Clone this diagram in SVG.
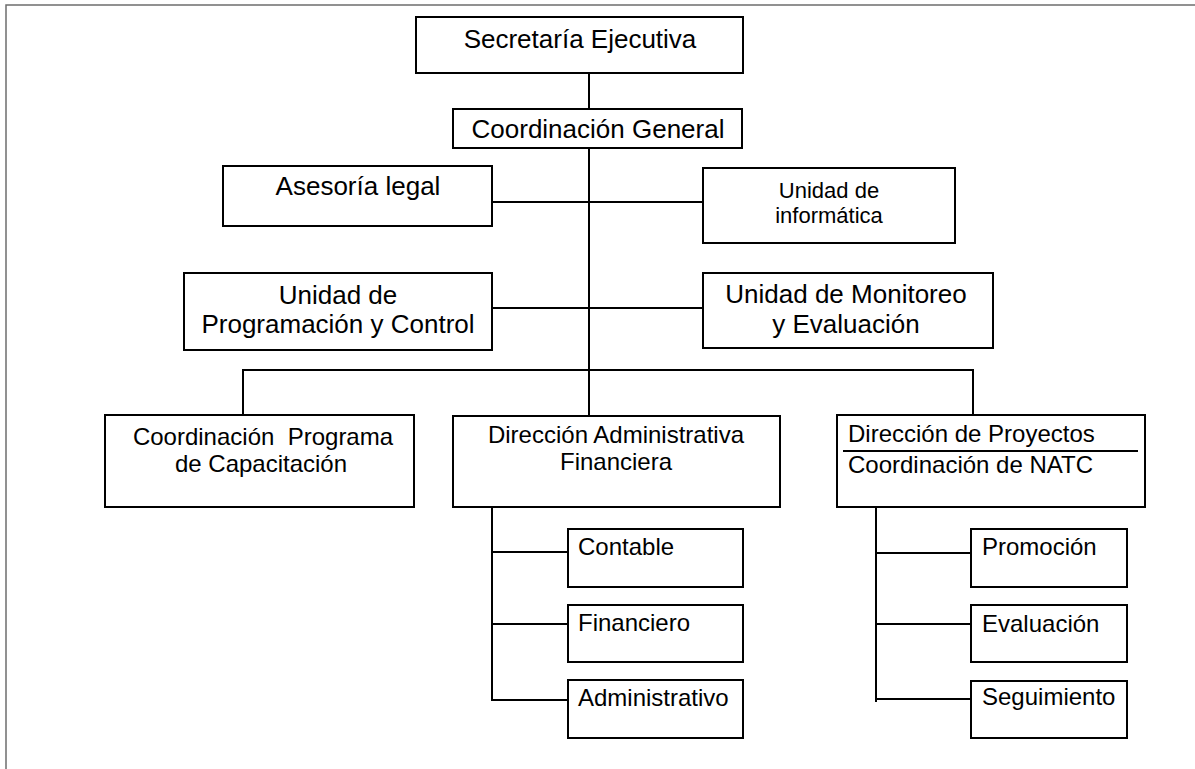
<svg xmlns="http://www.w3.org/2000/svg" width="1195" height="769" viewBox="0 0 1195 769">
<style>
.box{fill:#fff;stroke:#000;stroke-width:2}
.ln{stroke:#000;stroke-width:2;fill:none}
text{font-family:"Liberation Sans",Arial,sans-serif;fill:#000}
.c{text-anchor:middle}
.f26{font-size:26px}
.f24{font-size:24px}
.f22{font-size:22px}
</style>
<rect width="1195" height="769" fill="#fff"/>
<path d="M6 769 V5 H1195" stroke="#6e6e6e" stroke-width="1.5" fill="none"/>
<g id="connectors">
<line class="ln" x1="589" y1="73" x2="589" y2="109"/>
<line class="ln" x1="589" y1="148" x2="589" y2="416"/>
<line class="ln" x1="492" y1="202" x2="703" y2="202"/>
<line class="ln" x1="492" y1="308" x2="703" y2="308"/>
<line class="ln" x1="242" y1="370" x2="974" y2="370"/>
<line class="ln" x1="243" y1="370" x2="243" y2="415"/>
<line class="ln" x1="973" y1="370" x2="973" y2="415"/>
<line class="ln" x1="492" y1="507" x2="492" y2="701"/>
<line class="ln" x1="492" y1="552" x2="568" y2="552"/>
<line class="ln" x1="492" y1="624" x2="568" y2="624"/>
<line class="ln" x1="492" y1="700" x2="568" y2="700"/>
<line class="ln" x1="876" y1="507" x2="876" y2="702"/>
<line class="ln" x1="876" y1="553" x2="971" y2="553"/>
<line class="ln" x1="876" y1="624" x2="971" y2="624"/>
<line class="ln" x1="876" y1="699" x2="971" y2="699"/>
</g>
<g id="secretaria">
<rect class="box" x="416" y="17" width="327" height="56"/>
<text class="c f26" x="580" y="48">Secretaría Ejecutiva</text>
</g>
<g id="coordinacion-general">
<rect class="box" x="453" y="109" width="289" height="39"/>
<text class="c f26" x="598" y="138">Coordinación General</text>
</g>
<g id="asesoria-legal">
<rect class="box" x="223" y="166" width="269" height="60"/>
<text class="c f26" x="358" y="195">Asesoría legal</text>
</g>
<g id="unidad-informatica">
<rect class="box" x="703" y="168" width="252" height="75"/>
<text class="c f22" x="829" y="198">Unidad de</text>
<text class="c f22" x="829" y="223">informática</text>
</g>
<g id="unidad-programacion">
<rect class="box" x="184" y="273" width="308" height="77"/>
<text class="c f26" x="338" y="304">Unidad de</text>
<text class="c f26" x="338" y="333">Programación y Control</text>
</g>
<g id="unidad-monitoreo">
<rect class="box" x="703" y="273" width="290" height="75"/>
<text class="c f26" x="846" y="303">Unidad de Monitoreo</text>
<text class="c f26" x="846" y="333">y Evaluación</text>
</g>
<g id="coord-capacitacion">
<rect class="box" x="105" y="415" width="309" height="92"/>
<text class="c f24" x="263" y="445" xml:space="preserve" style="white-space:pre">Coordinación  Programa</text>
<text class="c f24" x="261" y="472">de Capacitación</text>
</g>
<g id="direccion-administrativa">
<rect class="box" x="453" y="416" width="327" height="91"/>
<text class="c f24" x="616" y="443">Dirección Administrativa</text>
<text class="c f24" x="616" y="470">Financiera</text>
</g>
<g id="direccion-proyectos">
<rect class="box" x="837" y="415" width="308" height="92"/>
<text class="f24" x="848" y="442">Dirección de Proyectos</text>
<line class="ln" x1="843" y1="451" x2="1138" y2="451"/>
<text class="f24" x="848" y="473">Coordinación de NATC</text>
</g>
<g id="contable">
<rect class="box" x="568" y="529" width="175" height="58"/>
<text class="f24" x="578" y="555">Contable</text>
</g>
<g id="financiero">
<rect class="box" x="568" y="605" width="175" height="57"/>
<text class="f24" x="578" y="631">Financiero</text>
</g>
<g id="administrativo">
<rect class="box" x="568" y="680" width="175" height="58"/>
<text class="f24" x="578" y="706">Administrativo</text>
</g>
<g id="promocion">
<rect class="box" x="971" y="529" width="156" height="58"/>
<text class="f24" x="982" y="555">Promoción</text>
</g>
<g id="evaluacion">
<rect class="box" x="971" y="605" width="156" height="57"/>
<text class="f24" x="982" y="632">Evaluación</text>
</g>
<g id="seguimiento">
<rect class="box" x="971" y="681" width="156" height="57"/>
<text class="f24" x="982" y="705">Seguimiento</text>
</g>
</svg>
